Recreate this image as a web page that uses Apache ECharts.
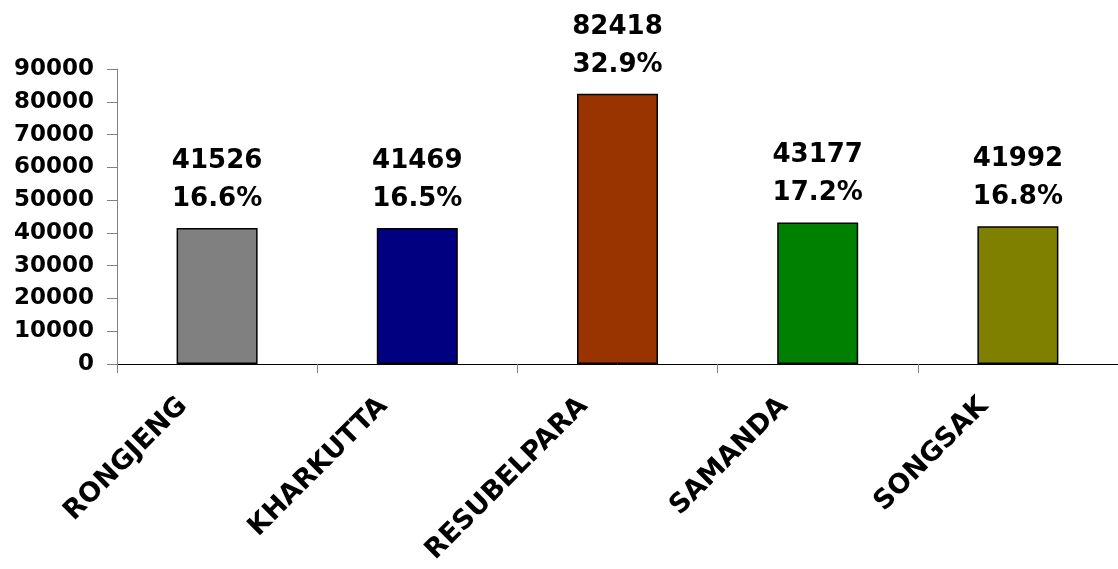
<!DOCTYPE html>
<html>
<head>
<meta charset="utf-8">
<script src="https://cdn.jsdelivr.net/npm/echarts@6/dist/echarts.min.js"></script>
<style>
html,body{margin:0;padding:0;background:#fff;}
#chart{width:1118px;height:569px;}
</style>
</head>
<body>
<div id="chart"></div>
<script>
const categories = ['RONGJENG', 'KHARKUTTA', 'RESUBELPARA', 'SAMANDA', 'SONGSAK'];
const values = [41526, 41469, 82418, 43177, 41992];
const percents = ['16.6%', '16.5%', '32.9%', '17.2%', '16.8%'];
const barColors = ['#808080', '#000080', '#993300', '#008000', '#808000'];
const yTicks = { min: 0, max: 90000, interval: 10000 };

const FONT = 'DejaVu Sans';
const chart = echarts.init(document.getElementById('chart'));
chart.setOption({
  animation: false,
  backgroundColor: '#ffffff',
  grid: { left: 117, top: 69, width: 1010, height: 295, containLabel: false },
  xAxis: {
    type: 'category',
    data: categories,
    axisLine: { show: true, lineStyle: { color: '#000000', width: 1 } },
    axisTick: { show: true, length: 9, lineStyle: { color: '#808080', width: 1 } },
    axisLabel: {
      rotate: 45,
      margin: 4,
      padding: [0, 48, 0, 0],
      fontFamily: FONT,
      fontWeight: 'bold',
      fontSize: 27,
      color: '#000000',
      interval: 0
    },
    splitLine: { show: false }
  },
  yAxis: {
    type: 'value',
    min: yTicks.min,
    max: yTicks.max,
    interval: yTicks.interval,
    axisLine: { show: true, lineStyle: { color: '#808080', width: 1 } },
    axisTick: { show: true, length: 10, lineStyle: { color: '#808080', width: 1 } },
    axisLabel: {
      margin: 23,
      fontFamily: FONT,
      fontWeight: 'bold',
      fontSize: 23,
      color: '#000000',
      formatter: (v) => String(v)
    },
    splitLine: { show: false }
  },
  series: [{
    type: 'bar',
    barWidth: 81,
    data: values.map((v, i) => ({
      value: v,
      itemStyle: { color: barColors[i], borderColor: '#000000', borderWidth: 1.5 }
    })),
    label: {
      show: true,
      position: 'top',
      distance: 10,
      fontFamily: FONT,
      fontWeight: 'bold',
      fontSize: 26,
      lineHeight: 38,
      color: '#000000',
      formatter: (p) => values[p.dataIndex] + '\n' + percents[p.dataIndex]
    }
  }]
});
</script>
</body>
</html>
